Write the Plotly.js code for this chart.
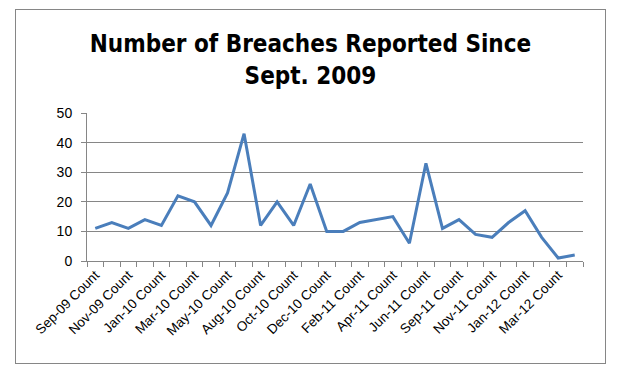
<!DOCTYPE html>
<html>
<head>
<meta charset="utf-8">
<script src="https://cdn.plot.ly/plotly-3.0.1.min.js"></script>
<style>
  html, body { margin: 0; padding: 0; background: #fff; }
  #frame { position: absolute; left: 15px; top: 9px; width: 589px; height: 353px; border: 1px solid #868686; }
  #chart { width: 589px; height: 353px; }
</style>
</head>
<body>
<div id="frame"><div id="chart"></div></div>
<script>
const categories = [
  "Sep-09 Count", "Oct-09 Count", "Nov-09 Count", "Dec-09 Count", "Jan-10 Count",
  "Feb-10 Count", "Mar-10 Count", "Apr-10 Count", "May-10 Count", "Jun-10 Count",
  "Aug-10 Count", "Sep-10 Count", "Oct-10 Count", "Nov-10 Count", "Dec-10 Count",
  "Jan-11 Count", "Feb-11 Count", "Mar-11 Count", "Apr-11 Count", "May-11 Count",
  "Jun-11 Count", "Jul-11 Count", "Sep-11 Count", "Oct-11 Count", "Nov-11 Count",
  "Dec-11 Count", "Jan-12 Count", "Feb-12 Count", "Mar-12 Count", "Apr-12 Count"
];
const breaches = [11, 13, 11, 14, 12, 22, 20, 12, 23, 43,
                  12, 20, 12, 26, 10, 10, 13, 14, 15, 6,
                  33, 11, 14, 9, 8, 13, 17, 8, 1, 2];
const tickLabels = categories.map((c, i) => (i % 2 === 0 ? c : ""));
const yTicks = [0, 10, 20, 30, 40, 50];

const trace = {
  type: "scatter",
  mode: "lines",
  x: categories,
  y: breaches,
  line: { color: "#4A7EBB", width: 3 },
  hoverinfo: "x+y"
};

const layout = {
  width: 589,
  height: 353,
  margin: { l: 71, r: 22, t: 103, b: 102 },
  paper_bgcolor: "#ffffff",
  plot_bgcolor: "#ffffff",
  showlegend: false,
  title: {
    text: "<b>Number of Breaches Reported Since<br>Sept. 2009</b>",
    font: { family: "Liberation Sans Narrow, DejaVu Sans Condensed, Liberation Sans, sans-serif", size: 24, color: "#000000" },
    x: 0.5, xanchor: "center", xref: "container",
    y: 0.88, yanchor: "top", yref: "container"
  },
  xaxis: {
    type: "category",
    range: [-0.5, categories.length - 0.5],
    tickvals: categories,
    ticktext: tickLabels,
    tickson: "boundaries",
    ticks: "outside",
    ticklen: 5,
    tickcolor: "#868686",
    tickangle: -45,
    showline: true,
    linecolor: "#868686",
    linewidth: 1,
    showgrid: false,
    zeroline: false,
    tickfont: { family: "Liberation Sans, Arial, sans-serif", size: 13.5, color: "#000000" }
  },
  yaxis: {
    range: [0, 50],
    tickvals: yTicks,
    ticks: "outside",
    ticklen: 5,
    tickcolor: "#868686",
    ticklabelstandoff: 6,
    showline: true,
    linecolor: "#868686",
    linewidth: 1,
    showgrid: true,
    gridcolor: "#868686",
    gridwidth: 1,
    zeroline: false,
    tickfont: { family: "Liberation Sans, Arial, sans-serif", size: 14, color: "#000000" }
  }
};

Plotly.newPlot("chart", [trace], layout, { displayModeBar: false, staticPlot: true });
</script>
</body>
</html>
